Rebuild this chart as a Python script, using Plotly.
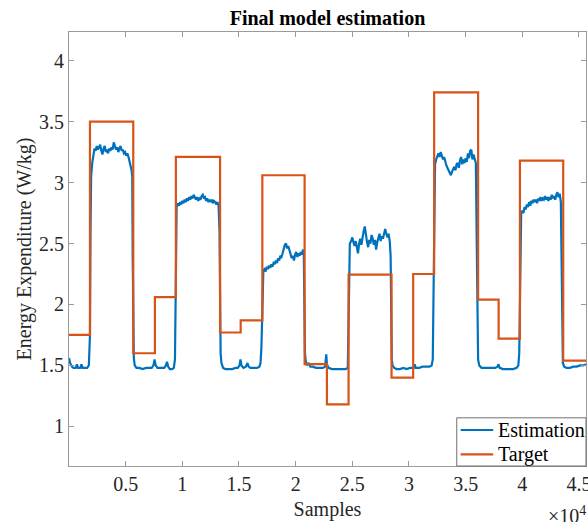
import plotly.graph_objects as go

# ---------------- data ----------------
target_x = [0, 1850, 5670, 7580, 9430, 13330, 15150, 17060, 20790, 22760,
            24670, 28460, 30370, 32220, 36100, 37910, 39790, 43610, 45620]
target_y = [1.75, 3.50, 1.60, 2.06, 3.21, 1.77, 1.87, 3.06, 1.51, 1.18,
            2.245, 1.40, 2.25, 3.74, 2.04, 1.72, 3.18, 1.54, 1.54]

est_x = [
    0, 100, 250, 400, 600, 700, 800, 1000, 1100, 1200, 1400, 1600, 1750, 1800, 1850, 1900, 1950,
    2050, 2150, 2250, 2350, 2450, 2550, 2650, 2750, 2850, 2950, 3050, 3150, 3250, 3350, 3450, 3550,
    3650, 3750, 3850, 3950, 4050, 4150, 4250, 4350, 4450, 4550, 4650, 4750, 4850, 4950, 5050, 5150,
    5250, 5350, 5450, 5520, 5580, 5620, 5660, 5720,
    5800, 5950, 6200, 6500, 6800, 7100, 7300, 7450, 7550, 7650, 7800, 8000, 8200, 8400, 8550, 8650,
    8750, 8900, 9100, 9250, 9350, 9420, 9460,
    9500, 9600, 9700, 9800, 9900, 10000, 10100, 10200, 10300, 10400, 10500, 10600, 10700, 10800,
    10900, 11000, 11100, 11200, 11300, 11400, 11500, 11600, 11700, 11800, 11900, 12000, 12100,
    12200, 12300, 12400, 12500, 12600, 12700, 12800, 12900, 13000, 13100, 13200, 13280, 13330,
    13380, 13450,
    13600, 13800, 14100, 14400, 14700, 14900, 15050, 15130, 15220, 15400, 15600, 15750, 15850,
    16000, 16300, 16600, 16800, 16900, 16980, 17030, 17080, 17150,
    17250, 17350, 17450, 17550, 17650, 17750, 17850, 17950, 18050, 18150, 18250, 18350, 18450,
    18550, 18650, 18750, 18850, 18950, 19050, 19150, 19250, 19350, 19450, 19550, 19650, 19750,
    19850, 19950, 20050, 20150, 20250, 20350, 20450, 20550, 20650, 20720, 20770, 20820, 20900,
    21000, 21150, 21300, 21500, 21800, 22100, 22400, 22600, 22700, 22760, 22900, 23200, 23500,
    23800, 24100, 24400, 24600, 24670, 24720, 24780,
    24900, 25000, 25100, 25200, 25300, 25400, 25500, 25600, 25700, 25800, 25900, 26000, 26100,
    26200, 26300, 26400, 26500, 26600, 26700, 26800, 26900, 27000, 27100, 27200, 27300, 27400,
    27500, 27600, 27700, 27800, 27900, 28000, 28100, 28200, 28300, 28380, 28430, 28480, 28550,
    28700, 28900, 29200, 29500, 29800, 30100, 30400, 30500, 30600, 30900, 31200, 31500, 31800,
    32000, 32100, 32180, 32240, 32300,
    32400, 32500, 32600, 32700, 32800, 32900, 33000, 33100, 33200, 33300, 33400, 33500, 33600,
    33700, 33800, 33900, 34000, 34100, 34200, 34300, 34400, 34500, 34600, 34700, 34800, 34900,
    35000, 35100, 35200, 35300, 35400, 35500, 35600, 35700, 35800, 35900, 35980, 36040, 36100, 36200,
    36400, 36700, 37000, 37300, 37600, 37800, 37900, 38000, 38300, 38600, 38900, 39200, 39500,
    39650, 39730, 39780, 39830, 39900,
    40000, 40100, 40200, 40300, 40400, 40500, 40600, 40700, 40800, 40900, 41000, 41100, 41200,
    41300, 41400, 41500, 41600, 41700, 41800, 41900, 42000, 42100, 42200, 42300, 42400, 42500,
    42600, 42700, 42800, 42900, 43000, 43100, 43200, 43300, 43400, 43460, 43520, 43580,
    43700, 43900, 44200, 44500, 44800, 45100, 45400, 45620,
]
est_y = [
    1.56, 1.52, 1.49, 1.48, 1.48, 1.51, 1.48, 1.48, 1.51, 1.48, 1.48, 1.48, 1.50, 1.58, 1.75, 2.60, 3.05,
    3.16, 3.24, 3.28, 3.26, 3.30, 3.27, 3.29, 3.31, 3.26, 3.23, 3.28, 3.30, 3.25, 3.27, 3.24, 3.28,
    3.26, 3.29, 3.27, 3.33, 3.30, 3.27, 3.29, 3.25, 3.28, 3.30, 3.26, 3.27, 3.24, 3.25, 3.22, 3.24,
    3.21, 3.18, 3.13, 3.10, 3.05, 2.40, 1.98, 1.56,
    1.50, 1.48, 1.48, 1.47, 1.48, 1.48, 1.48, 1.50, 1.55, 1.50, 1.48, 1.48, 1.48, 1.48, 1.50, 1.53,
    1.49, 1.47, 1.47, 1.48, 1.55, 2.00, 2.50,
    2.80, 2.83, 2.81, 2.84, 2.82, 2.85, 2.83, 2.86, 2.84, 2.87, 2.85, 2.88, 2.86, 2.89,
    2.87, 2.90, 2.88, 2.86, 2.88, 2.85, 2.87, 2.86, 2.89, 2.90, 2.87, 2.88, 2.85,
    2.87, 2.84, 2.86, 2.84, 2.86, 2.83, 2.85, 2.84, 2.82, 2.84, 2.81, 2.60, 2.00,
    1.60, 1.52,
    1.48, 1.47, 1.47, 1.47, 1.48, 1.48, 1.50, 1.55, 1.50, 1.48, 1.49, 1.52, 1.49,
    1.48, 1.48, 1.48, 1.49, 1.52, 1.65, 1.90, 2.20, 2.28,
    2.29, 2.27, 2.31, 2.29, 2.32, 2.30, 2.33, 2.31, 2.34, 2.33, 2.36, 2.34, 2.38,
    2.36, 2.40, 2.39, 2.42, 2.46, 2.49, 2.50, 2.46, 2.48, 2.44, 2.41, 2.38, 2.40,
    2.36, 2.41, 2.43, 2.39, 2.42, 2.40, 2.43, 2.41, 2.45, 2.40, 2.00, 1.60, 1.53,
    1.50, 1.52, 1.49, 1.49, 1.48, 1.48, 1.48, 1.49, 1.59, 1.51, 1.48, 1.47, 1.47,
    1.47, 1.47, 1.47, 1.48, 1.90, 2.40, 2.50,
    2.52, 2.55, 2.51, 2.48, 2.52, 2.45, 2.42, 2.50, 2.54, 2.49, 2.57, 2.60, 2.64,
    2.55, 2.51, 2.47, 2.53, 2.50, 2.57, 2.54, 2.49, 2.53, 2.45, 2.51, 2.55, 2.58,
    2.52, 2.56, 2.54, 2.60, 2.62, 2.58, 2.55, 2.58, 2.52, 2.40, 1.90, 1.55, 1.50,
    1.48, 1.47, 1.47, 1.48, 1.47, 1.48, 1.48, 1.51, 1.48, 1.48, 1.49, 1.49, 1.49,
    1.50, 1.55, 2.20, 2.90, 3.15,
    3.19, 3.22, 3.24, 3.21, 3.25, 3.22, 3.19, 3.21, 3.17, 3.14, 3.12, 3.10, 3.08,
    3.06, 3.09, 3.11, 3.13, 3.10, 3.15, 3.16, 3.12, 3.18, 3.21, 3.15, 3.19, 3.16,
    3.20, 3.17, 3.24, 3.20, 3.26, 3.27, 3.19, 3.23, 3.18, 3.16, 2.50, 1.80, 1.55, 1.50,
    1.48, 1.48, 1.48, 1.48, 1.48, 1.49, 1.51, 1.48, 1.47, 1.47, 1.47, 1.47, 1.48,
    1.50, 1.60, 2.10, 2.60, 2.75,
    2.77, 2.75, 2.80, 2.78, 2.82, 2.80, 2.84, 2.81, 2.85, 2.83, 2.86, 2.84, 2.86,
    2.83, 2.87, 2.85, 2.88, 2.85, 2.87, 2.86, 2.89, 2.86, 2.88, 2.85, 2.88, 2.86,
    2.90, 2.87, 2.89, 2.86, 2.90, 2.92, 2.88, 2.91, 2.84, 2.30, 1.70, 1.52,
    1.49, 1.48, 1.48, 1.49, 1.49, 1.50, 1.50, 1.51,
]

x_tick_vals = [5000, 10000, 15000, 20000, 25000, 30000, 35000, 40000, 45000]
x_tick_text = ["0.5", "1", "1.5", "2", "2.5", "3", "3.5", "4", "4.5"]
y_tick_vals = [1, 1.5, 2, 2.5, 3, 3.5, 4]
y_tick_text = ["1", "1.5", "2", "2.5", "3", "3.5", "4"]

series_names = ["Estimation", "Target"]
series_colors = ["#0072BD", "#D95319"]

# ---------------- figure ----------------
FONT = "Liberation Serif"
AXC = "#9a9a9a"
TXT = "#262626"

fig = go.Figure()
fig.add_trace(go.Scatter(x=est_x, y=est_y, mode="lines", name=series_names[0],
                         line=dict(color=series_colors[0], width=2.2)))
fig.add_trace(go.Scatter(x=target_x, y=target_y, mode="lines", name=series_names[1],
                         line=dict(color=series_colors[1], width=2.2, shape="hv")))

axis_common = dict(showgrid=False, zeroline=False, showline=True, linecolor=AXC,
                   linewidth=1, mirror="ticks", ticks="inside", ticklen=5,
                   tickcolor=AXC, automargin=False,
                   tickfont=dict(family=FONT, size=20, color=TXT))

fig.update_layout(
    template="none",
    width=588, height=522,
    margin=dict(l=69, r=2, t=32, b=56),
    paper_bgcolor="white", plot_bgcolor="white",
    font=dict(family=FONT, size=20, color=TXT),
    title=dict(text="<b>Final model estimation</b>", x=0.5, xref="paper",
               xanchor="center", y=0.9655, yref="container", yanchor="middle",
               font=dict(family=FONT, size=20, color="#000000")),
    xaxis=dict(range=[0, 45620], tickvals=x_tick_vals, ticktext=x_tick_text,
               ticklabeloverflow="allow",
               title=dict(text="Samples", standoff=7,
                          font=dict(family=FONT, size=20, color=TXT)),
               **axis_common),
    yaxis=dict(range=[0.675, 4.235], tickvals=y_tick_vals, ticktext=y_tick_text,
               title=dict(text="Energy Expenditure (W/kg)", standoff=2,
                          font=dict(family=FONT, size=20, color=TXT)),
               **axis_common),
    showlegend=False,
)

# MATLAB-style legend box (bottom-right, inside axes)
fig.add_shape(type="rect", xref="paper", yref="paper", x0=0.75, x1=1.0, y0=0.0, y1=0.111,
              line=dict(color="#707070", width=1), fillcolor="white", layer="above")
legend_rows = [0.083, 0.027]
for name, color, yy in zip(series_names, series_colors, legend_rows):
    fig.add_shape(type="line", xref="paper", yref="paper", x0=0.7576, x1=0.8205,
                  y0=yy, y1=yy, line=dict(color=color, width=2.2), layer="above")
    fig.add_annotation(text=name, xref="paper", yref="paper", x=0.826, y=yy,
                       xanchor="left", yanchor="middle", showarrow=False,
                       font=dict(family=FONT, size=20, color="#000000"))

fig.add_annotation(text="×10<sup>4</sup>", xref="paper", yref="paper",
                   x=1.004, y=-0.113, xanchor="right", yanchor="middle",
                   showarrow=False,
                   font=dict(family=FONT, size=20, color=TXT))

fig.write_html("out.html",
               config={"displayModeBar": False},
               post_script="document.body.style.margin='0';"
                           "document.body.style.overflow='hidden';")
